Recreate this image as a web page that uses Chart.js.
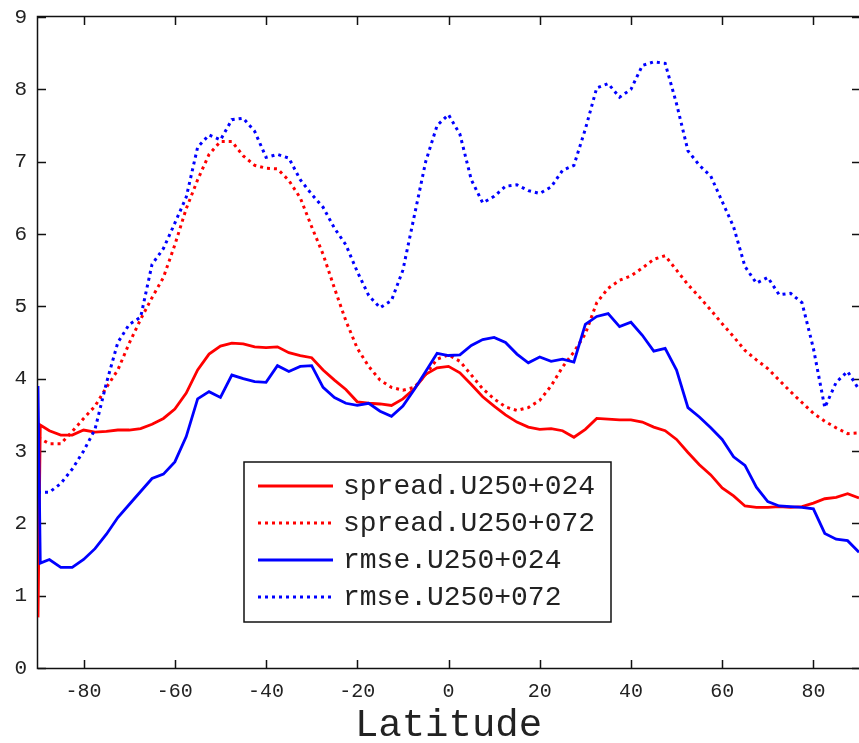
<!DOCTYPE html>
<html>
<head>
<meta charset="utf-8">
<script src="https://cdn.jsdelivr.net/npm/chart.js@4.4.1/dist/chart.umd.min.js"></script>
<style>
  html, body { margin: 0; padding: 0; background: #fff; }
</style>
</head>
<body>
<canvas id="latChart" width="859" height="743"></canvas>
<script>
// ================================
// Data
// ================================
const latitudes = [-90, -89.5, -87.5, -85, -82.5, -80, -77.5, -75, -72.5, -70, -67.5, -65, -62.5, -60,
    -57.5, -55, -52.5, -50, -47.5, -45, -42.5, -40, -37.5, -35, -32.5, -30, -27.5, -25, -22.5, -20,
    -17.5, -15, -12.5, -10, -7.5, -5, -2.5, 0, 2.5, 5, 7.5, 10, 12.5, 15, 17.5, 20, 22.5, 25, 27.5, 30,
    32.5, 35, 37.5, 40, 42.5, 45, 47.5, 50, 52.5, 55, 57.5, 60, 62.5, 65, 67.5, 70, 72.5, 75, 77.5, 80,
    82.5, 85, 87.5, 90];

const spread024 = [0.7, 3.36, 3.28, 3.22, 3.22, 3.29, 3.26, 3.27, 3.29, 3.29, 3.31, 3.37, 3.45, 3.58,
    3.80, 4.12, 4.34, 4.45, 4.49, 4.48, 4.44, 4.43, 4.44, 4.36, 4.32, 4.29, 4.12, 3.98, 3.85, 3.68,
    3.66, 3.65, 3.63, 3.72, 3.86, 4.06, 4.15, 4.17, 4.08, 3.92, 3.75, 3.62, 3.50, 3.40, 3.33, 3.30,
    3.31, 3.28, 3.19, 3.30, 3.45, 3.44, 3.43, 3.43, 3.40, 3.33, 3.28, 3.16, 2.98, 2.81, 2.67, 2.49,
    2.38, 2.24, 2.22, 2.22, 2.23, 2.22, 2.23, 2.28, 2.34, 2.36, 2.41, 2.35];

const spread072 = [3.18, 3.17, 3.10, 3.10, 3.27, 3.45, 3.62, 3.88, 4.12, 4.49, 4.82, 5.12, 5.40, 5.85,
    6.35, 6.75, 7.10, 7.28, 7.28, 7.08, 6.95, 6.91, 6.90, 6.74, 6.50, 6.10, 5.72, 5.25, 4.80, 4.42,
    4.17, 3.98, 3.88, 3.84, 3.88, 4.06, 4.27, 4.33, 4.24, 4.05, 3.86, 3.72, 3.61, 3.56, 3.60, 3.70,
    3.90, 4.16, 4.37, 4.62, 5.05, 5.25, 5.36, 5.42, 5.53, 5.65, 5.70, 5.50, 5.30, 5.13, 4.95, 4.76,
    4.58, 4.39, 4.26, 4.14, 3.98, 3.82, 3.67, 3.52, 3.41, 3.32, 3.24, 3.25];

const rmse024 = [3.9, 1.45, 1.50, 1.39, 1.39, 1.50, 1.65, 1.85, 2.08, 2.26, 2.44, 2.62, 2.68, 2.85,
    3.20, 3.72, 3.82, 3.74, 4.05, 4.00, 3.96, 3.95, 4.18, 4.10, 4.17, 4.18, 3.88, 3.74, 3.66, 3.63,
    3.66, 3.55, 3.48, 3.62, 3.85, 4.10, 4.35, 4.32, 4.33, 4.46, 4.54, 4.57, 4.50, 4.34, 4.22, 4.30,
    4.24, 4.27, 4.23, 4.75, 4.86, 4.90, 4.72, 4.78, 4.60, 4.38, 4.42, 4.12, 3.60, 3.47, 3.32, 3.16,
    2.92, 2.80, 2.50, 2.30, 2.24, 2.23, 2.22, 2.20, 1.86, 1.78, 1.76, 1.60];

const rmse072 = [2.43, 2.43, 2.43, 2.55, 2.75, 3.00, 3.30, 3.94, 4.50, 4.75, 4.85, 5.58, 5.80, 6.15,
    6.51, 7.20, 7.37, 7.30, 7.58, 7.60, 7.42, 7.06, 7.10, 7.05, 6.75, 6.55, 6.37, 6.08, 5.85, 5.48,
    5.15, 4.98, 5.08, 5.50, 6.25, 7.00, 7.50, 7.65, 7.38, 6.75, 6.43, 6.52, 6.66, 6.68, 6.60, 6.56,
    6.65, 6.88, 6.95, 7.45, 8.02, 8.08, 7.89, 8.00, 8.33, 8.38, 8.36, 7.80, 7.15, 6.95, 6.80, 6.45,
    6.10, 5.55, 5.32, 5.40, 5.16, 5.18, 5.05, 4.42, 3.60, 3.95, 4.10, 3.85];

const xTicks = [-80, -60, -40, -20, 0, 20, 40, 60, 80];
const yTicks = [0, 1, 2, 3, 4, 5, 6, 7, 8, 9];

const RED = '#ff0000';
const BLUE = '#0000ff';
const FONT = "'Liberation Mono', 'DejaVu Sans Mono', monospace";

function toPoints(values) {
    return latitudes.map((lat, i) => ({ x: lat, y: values[i] }));
}

// ================================
// Frame with inward ticks on all four sides
// ================================
const framePlugin = {
    id: 'frame',
    beforeDatasetsDraw(chart) {
        const { ctx, chartArea: a, scales: { x, y } } = chart;
        const len = 8;
        ctx.save();
        ctx.strokeStyle = '#111';
        ctx.lineWidth = 1.5;
        ctx.strokeRect(a.left - 0.5, a.top - 0.5, a.right - a.left + 2, a.bottom - a.top + 1);
        ctx.beginPath();
        xTicks.forEach(v => {
            const px = Math.round(x.getPixelForValue(v)) + 0.5;
            ctx.moveTo(px, a.bottom); ctx.lineTo(px, a.bottom - len);
            ctx.moveTo(px, a.top); ctx.lineTo(px, a.top + len);
        });
        yTicks.forEach(v => {
            const py = Math.round(y.getPixelForValue(v)) + 0.5;
            ctx.moveTo(a.left, py); ctx.lineTo(a.left + len, py);
            ctx.moveTo(a.right + 1, py); ctx.lineTo(a.right + 1 - len, py);
        });
        ctx.stroke();
        ctx.restore();
    }
};

// ================================
// Boxed legend inside the plot
// ================================
const boxLegendPlugin = {
    id: 'boxLegend',
    afterDatasetsDraw(chart) {
        const { ctx } = chart;
        const box = { left: 244, top: 462, width: 367, height: 160 };
        ctx.save();
        ctx.fillStyle = '#fff';
        ctx.fillRect(box.left, box.top, box.width, box.height);
        ctx.strokeStyle = '#111';
        ctx.lineWidth = 1.5;
        ctx.strokeRect(box.left, box.top, box.width, box.height);

        ctx.font = '28px ' + FONT;
        ctx.textBaseline = 'middle';
        chart.data.datasets.forEach((ds, i) => {
            const rowY = 486 + i * 37;
            ctx.beginPath();
            ctx.strokeStyle = ds.borderColor;
            ctx.lineWidth = 3;
            ctx.setLineDash(ds.borderDash || []);
            ctx.moveTo(258, rowY);
            ctx.lineTo(333, rowY);
            ctx.stroke();
            ctx.setLineDash([]);
            ctx.fillStyle = '#222';
            ctx.fillText(ds.label, 343, rowY + 1);
        });
        ctx.restore();
    }
};

// ================================
// Chart
// ================================
const ctx = document.getElementById('latChart').getContext('2d');

new Chart(ctx, {
    type: 'line',
    data: {
        datasets: [
            { label: 'spread.U250+024', data: toPoints(spread024), borderColor: RED, borderWidth: 2.8, order: 2 },
            { label: 'spread.U250+072', data: toPoints(spread072), borderColor: RED, borderWidth: 3, borderDash: [3, 4], order: 3 },
            { label: 'rmse.U250+024', data: toPoints(rmse024), borderColor: BLUE, borderWidth: 2.8, order: 0 },
            { label: 'rmse.U250+072', data: toPoints(rmse072), borderColor: BLUE, borderWidth: 3, borderDash: [3, 4], order: 1 }
        ]
    },
    options: {
        responsive: false,
        animation: false,
        devicePixelRatio: 1,
        layout: { padding: { top: 17, right: 0, left: 0, bottom: 0 } },
        elements: { point: { radius: 0 }, line: { tension: 0, fill: false } },
        plugins: { legend: { display: false }, tooltip: { enabled: false } },
        scales: {
            x: {
                type: 'linear',
                min: -90,
                max: 90,
                afterBuildTicks: s => { s.ticks = xTicks.map(v => ({ value: v })); },
                afterFit: s => { s.height = 75; s.paddingLeft = 0; s.paddingRight = 0; },
                grid: { display: false, drawTicks: false },
                border: { display: false },
                ticks: { padding: 12, color: '#222', maxRotation: 0, autoSkip: false, font: { family: FONT, size: 20 } },
                title: {
                    display: true,
                    text: 'Latitude',
                    color: '#222',
                    font: { family: FONT, size: 39, lineHeight: 0.8 },
                    padding: { top: 0, bottom: 2 }
                }
            },
            y: {
                min: 0,
                max: 9,
                afterBuildTicks: s => { s.ticks = yTicks.map(v => ({ value: v })); },
                afterFit: s => { s.width = 38; s.paddingTop = 0; s.paddingBottom = 0; },
                grid: { display: false, drawTicks: false },
                border: { display: false },
                ticks: { padding: 11, color: '#222', font: { family: FONT, size: 21 } }
            }
        }
    },
    plugins: [framePlugin, boxLegendPlugin]
});
</script>
</body>
</html>
